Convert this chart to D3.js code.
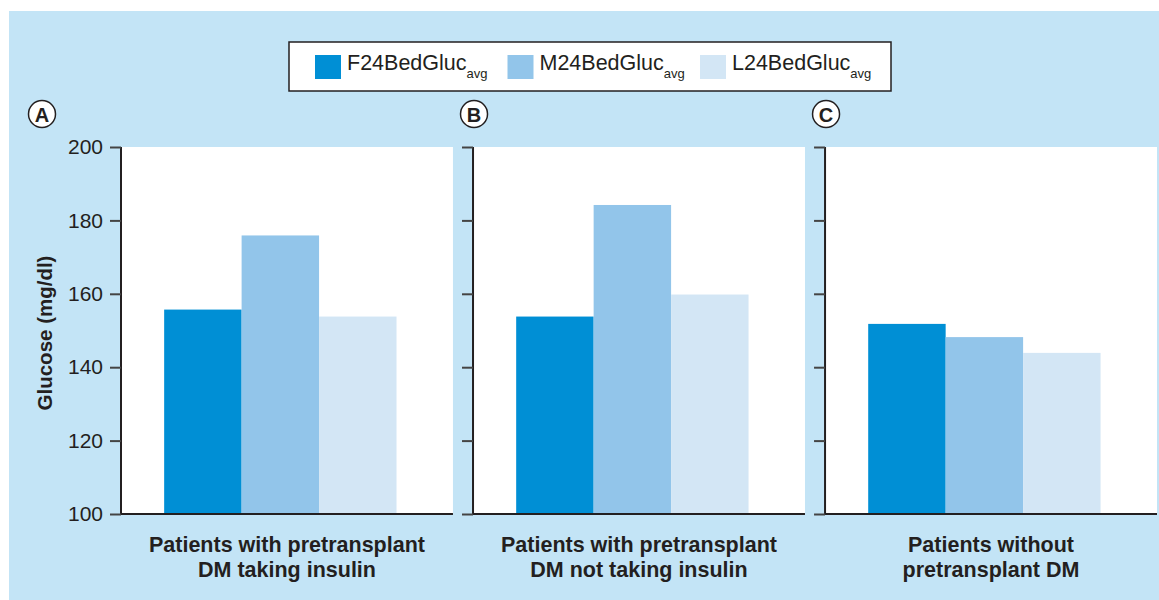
<!DOCTYPE html>
<html>
<head>
<meta charset="utf-8">
<script src="https://cdn.jsdelivr.net/npm/d3@7"></script>
<style>
    body { margin: 0; background: #fff; }
    svg { display: block; font-family: "Liberation Sans", Arial, sans-serif; }
</style>
</head>
<body>
<svg id="chart" width="1159" height="600"></svg>
<script>
const groups = ['A', 'B', 'C'];
const groupLabels = [
    ['Patients with pretransplant', 'DM taking insulin'],
    ['Patients with pretransplant', 'DM not taking insulin'],
    ['Patients without', 'pretransplant DM'],
];
const series = ['F24BedGluc', 'M24BedGluc', 'L24BedGluc'];
const seriesColors = ['#008fd5', '#92c5ea', '#d3e6f5'];
const fValues = [155.7, 153.8, 151.8];
const mValues = [175.9, 184.2, 148.2];
const lValues = [153.8, 159.8, 143.9];
const yTicks = [100, 120, 140, 160, 180, 200];

const values = [fValues, mValues, lValues];
const ink = '#231f20';
const bg = '#c3e4f6';

const svg = d3.select('#chart');

svg.append('rect')
    .attr('x', 9).attr('y', 11)
    .attr('width', 1150).attr('height', 589)
    .attr('fill', bg);

const x = d3.scaleBand().domain(groups).range([121, 1157]).paddingInner(0.057);
const y = d3.scaleLinear().domain([100, 200]).range([514, 147]);
const bw = x.bandwidth();
const xs = d3.scaleBand().domain(series).range([bw * 0.13, bw * 0.83]);

groups.forEach((g, i) => {
    const panel = svg.append('g')
        .attr('transform', `translate(${x(g)},0)`);

    panel.append('rect')
        .attr('x', 0).attr('y', y(200))
        .attr('width', bw).attr('height', y(100) - y(200))
        .attr('fill', '#fff');

    panel.selectAll('rect.bar')
        .data(series.map((s, j) => ({ s, v: values[j][i], c: seriesColors[j] })))
        .enter()
        .append('rect')
        .attr('class', 'bar')
        .attr('x', d => xs(d.s))
        .attr('width', xs.bandwidth())
        .attr('y', d => y(d.v))
        .attr('height', d => y(100) - y(d.v))
        .attr('fill', d => d.c);

    const axis = d3.axisLeft(y).tickValues(yTicks).tickSize(11).tickPadding(7)
        .tickFormat(i === 0 ? d3.format('d') : () => '');
    const ag = panel.append('g').call(axis);
    ag.select('.domain').attr('stroke', ink).attr('stroke-width', 2)
        .attr('d', `M0,${y(200)}V${y(100)}`);
    ag.selectAll('.tick line').attr('stroke', '#444').attr('stroke-width', 2);
    ag.selectAll('.tick text')
        .attr('fill', ink)
        .attr('font-size', 21)
        .attr('font-family', '"Liberation Sans", Arial, sans-serif');

    panel.append('line')
        .attr('x1', 0).attr('x2', bw)
        .attr('y1', y(100)).attr('y2', y(100))
        .attr('stroke', ink).attr('stroke-width', 2);

    const lbl = panel.append('text')
        .attr('text-anchor', 'middle')
        .attr('font-weight', 'bold')
        .attr('font-size', 21.5)
        .attr('fill', ink);
    groupLabels[i].forEach((line, k) => {
        lbl.append('tspan')
            .attr('x', bw / 2)
            .attr('y', 552 + k * 25)
            .text(line);
    });

    const cx = i === 0 ? -79 : 1;
    panel.append('circle')
        .attr('cx', cx).attr('cy', 114).attr('r', 13.5)
        .attr('fill', '#fff').attr('stroke', ink).attr('stroke-width', 1.5);
    panel.append('text')
        .attr('x', cx).attr('y', 121.5)
        .attr('text-anchor', 'middle')
        .attr('font-weight', 'bold')
        .attr('font-size', 20)
        .attr('fill', ink)
        .text(g);
});

svg.append('text')
    .attr('transform', 'translate(52,333) rotate(-90)')
    .attr('text-anchor', 'middle')
    .attr('font-weight', 'bold')
    .attr('font-size', 20.5)
    .attr('fill', ink)
    .text('Glucose (mg/dl)');

// legend
const legend = svg.append('g');
legend.append('rect')
    .attr('x', 289).attr('y', 42)
    .attr('width', 602).attr('height', 49)
    .attr('fill', '#fff').attr('stroke', ink).attr('stroke-width', 1.5);

const lx = d3.scalePoint().domain(series).range([315, 700]);
const items = legend.selectAll('g.item')
    .data(series.map((s, j) => ({ s, c: seriesColors[j] })))
    .enter()
    .append('g')
    .attr('class', 'item')
    .attr('transform', d => `translate(${lx(d.s)},55)`);

items.append('rect')
    .attr('width', 26).attr('height', 24)
    .attr('fill', d => d.c);

const lt = items.append('text')
    .attr('x', 32).attr('y', 15)
    .attr('font-size', 21.5)
    .attr('fill', ink);
lt.append('tspan').text(d => d.s);
lt.append('tspan').attr('dy', 8).attr('font-size', 13).text('avg');
</script>
</body>
</html>
